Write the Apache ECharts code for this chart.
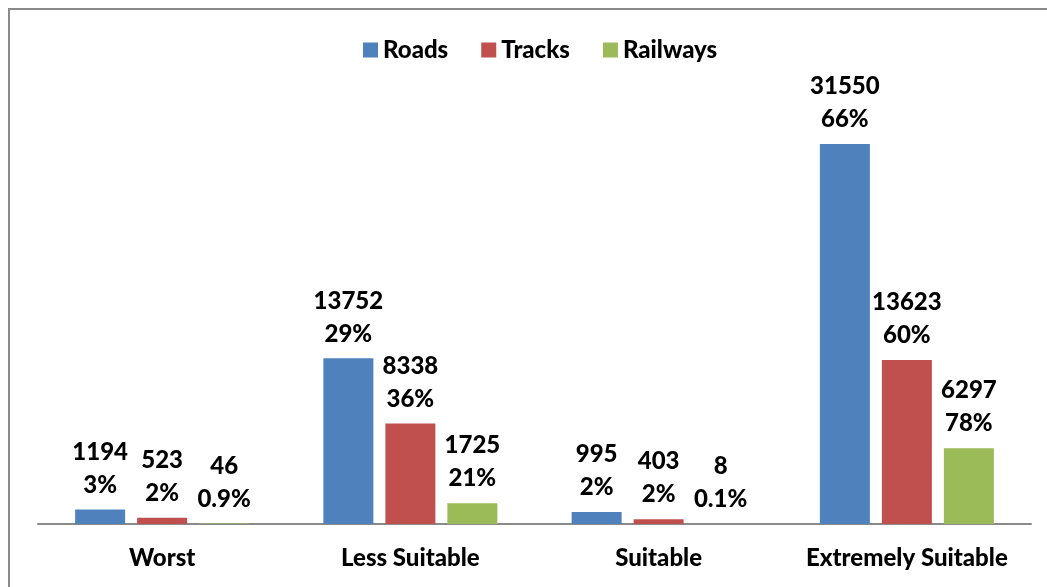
<!DOCTYPE html>
<html>
<head>
<meta charset="utf-8">
<script src="https://cdn.jsdelivr.net/npm/echarts@6/dist/echarts.min.js"></script>
<style>
html,body{margin:0;padding:0;background:#fff;}
#c{width:1047px;height:587px;}
</style>
</head>
<body>
<div id="c"></div>
<script>
const categories = ['Worst', 'Less Suitable', 'Suitable', 'Extremely Suitable'];
const seriesNames = ['Roads', 'Tracks', 'Railways'];
const roads = [1194, 13752, 995, 31550];
const tracks = [523, 8338, 403, 13623];
const railways = [46, 1725, 8, 6297];
const roadsPct = ['3%', '29%', '2%', '66%'];
const tracksPct = ['2%', '36%', '2%', '60%'];
const railwaysPct = ['0.9%', '21%', '0.1%', '78%'];
const colors = ['#4F81BD', '#C0504D', '#9BBB59'];

const FONT = 'Lato';
const FS = 24;
const chart = echarts.init(document.getElementById('c'), null, {renderer: 'canvas'});

function mk(name, data, pct, color) {
  return {
    name: name,
    type: 'bar',
    data: data,
    barWidth: 50,
    barGap: '24%',
    itemStyle: {color: color},
    label: {
      show: true,
      position: 'top',
      distance: 8,
      formatter: function (p) { return '{a|' + p.value + '}\n{a|' + pct[p.dataIndex] + '}'; },
      rich: {
        a: {fontFamily: FONT, fontWeight: 900, fontSize: FS, color: '#000', lineHeight: 33, align: 'center'}
      }
    }
  };
}

chart.setOption({
  animation: false,
  backgroundColor: '#fff',
  graphic: [{
    type: 'rect',
    shape: {x: 9, y: 9, width: 1200, height: 800},
    style: {fill: 'none', stroke: '#8a8a8a', lineWidth: 2},
    silent: true,
    z: -10
  }],
  legend: {
    top: 33,
    left: 358,
    itemWidth: 15,
    itemHeight: 15,
    itemGap: 33,
    icon: 'rect',
    textStyle: {fontFamily: FONT, fontWeight: 900, fontSize: FS, color: '#000'},
    data: seriesNames
  },
  grid: {left: 38, right: 16, top: 102.4, bottom: 63, containLabel: false},
  xAxis: {
    type: 'category',
    data: categories,
    axisLine: {show: true, lineStyle: {color: '#8a8a8a', width: 2}},
    axisTick: {show: false},
    axisLabel: {interval: 0, fontFamily: FONT, fontWeight: 900, fontSize: FS, color: '#000', margin: 22}
  },
  yAxis: {
    type: 'value',
    min: 0,
    max: 35000,
    interval: 5000,
    show: false,
    splitLine: {show: false}
  },
  series: [
    mk(seriesNames[0], roads, roadsPct, colors[0]),
    mk(seriesNames[1], tracks, tracksPct, colors[1]),
    mk(seriesNames[2], railways, railwaysPct, colors[2])
  ]
});
</script>
</body>
</html>
